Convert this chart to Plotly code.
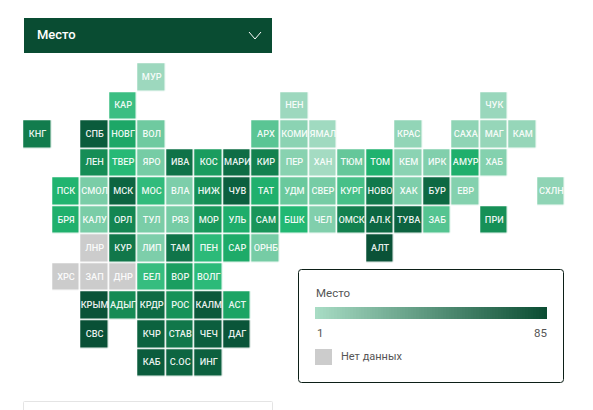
import plotly.graph_objects as go

W, H = 593, 410

# Tile grid: region codes by grid row, "" = no tile
region_rows = [
    ["","","","","МУР","","","","","","","","","","","","","","",],
    ["","","","КАР","","","","","","НЕН","","","","","","","ЧУК","","",],
    ["КНГ","","СПБ","НОВГ","ВОЛ","","","","АРХ","КОМИ","ЯМАЛ","","","КРАС","","САХА","МАГ","КАМ","",],
    ["","","ЛЕН","ТВЕР","ЯРО","ИВА","КОС","МАРИ","КИР","ПЕР","ХАН","ТЮМ","ТОМ","КЕМ","ИРК","АМУР","ХАБ","","",],
    ["","ПСК","СМОЛ","МСК","МОС","ВЛА","НИЖ","ЧУВ","ТАТ","УДМ","СВЕР","КУРГ","НОВО","ХАК","БУР","ЕВР","","","СХЛН",],
    ["","БРЯ","КАЛУ","ОРЛ","ТУЛ","РЯЗ","МОР","УЛЬ","САМ","БШК","ЧЕЛ","ОМСК","АЛ.К","ТУВА","ЗАБ","","ПРИ","","",],
    ["","","ЛНР","КУР","ЛИП","ТАМ","ПЕН","САР","ОРНБ","","","","АЛТ","","","","","","",],
    ["","ХРС","ЗАП","ДНР","БЕЛ","ВОР","ВОЛГ","","","","","","","","","","","","",],
    ["","","КРЫМ","АДЫГ","КРДР","РОС","КАЛМ","АСТ","","","","","","","","","","","",],
    ["","","СВС","","КЧР","СТАВ","ЧЕЧ","ДАГ","","","","","","","","","","","",],
    ["","","","","КАБ","С.ОС","ИНГ","","","","","","","","","","","","",],
]
_ = None
# Rank of each tile (estimated from tile colour); None = no tile or no data
rank_rows = [
    [_,_,_,_,5,_,_,_,_,_,_,_,_,_,_,_,_,_,_],
    [_,_,_,28,_,_,_,_,_,5,_,_,_,_,_,_,6,_,_],
    [62,_,78,42,18,_,_,_,22,10,4,_,_,8,_,9,7,7,_],
    [_,_,55,32,16,66,48,68,60,11,3,20,36,10,13,38,12,_,_],
    [_,35,15,72,30,14,54,75,37,19,16,26,63,14,70,12,_,_,9],
    [_,37,15,58,15,16,50,39,52,33,13,60,71,73,23,_,54,_,_],
    [_,_,_,64,14,65,31,40,16,_,_,_,83,_,_,_,_,_,_],
    [_,_,_,_,29,47,31,_,_,_,_,_,_,_,_,_,_,_,_],
    [_,_,82,56,69,53,79,44,_,_,_,_,_,_,_,_,_,_,_],
    [_,_,84,_,74,64,76,81,_,_,_,_,_,_,_,_,_,_,_],
    [_,_,_,_,77,72,75,_,_,_,_,_,_,_,_,_,_,_,_],
]
no_data_regions = ["ЛНР", "ХРС", "ЗАП", "ДНР"]

title_text = "Место"
legend_title = "Место"
legend_min, legend_max = 1, 85
legend_values = list(range(legend_min, legend_max + 1))
no_data_text = "Нет данных"

DARK = "#094c32"
tile_scale = [[0, "#abddc7"], [0.2, "#70caa1"], [0.38, "#22b873"], [0.6, "#18965a"], [0.8, "#0e6c45"], [1, "#094e35"]]
legend_scale = [[0, "#a8dcc4"], [1, "#0b4d33"]]

# pixel geometry of the grid
PITCH = 28.55
X0, Y0 = 37.5, 77.5
px = lambda p: p / W
py = lambda p: 1 - p / H

ncols = len(region_rows[0])
nrows = len(region_rows)
col_idx = list(range(ncols))
row_idx = list(range(nrows))

no_data_z = [[1 if c in no_data_regions else None for c in r] for r in region_rows]

fig = go.Figure()
GAP = 1.6
fig.add_trace(go.Heatmap(x=col_idx, y=row_idx, z=rank_rows, colorscale=tile_scale, zmin=legend_min, zmax=legend_max,
                         xgap=GAP, ygap=GAP, showscale=False, hoverongaps=False))
fig.add_trace(go.Heatmap(x=col_idx, y=row_idx, z=no_data_z, colorscale=[[0, "#cccccc"], [1, "#cccccc"]],
                         xgap=GAP, ygap=GAP, showscale=False, hoverongaps=False))

tx, ty, tt = [], [], []
for j, r in enumerate(region_rows):
    for i, c in enumerate(r):
        if c:
            tx.append(i); ty.append(j); tt.append(c)
fig.add_trace(go.Scatter(x=tx, y=ty, text=tt, mode="text", hoverinfo="skip", cliponaxis=False,
                         textfont=dict(family="Roboto", size=9.2, color="rgba(255,255,255,0.92)", weight=500)))

# Legend gradient
fig.add_trace(go.Heatmap(x=legend_values, y=[0], z=[legend_values], colorscale=legend_scale,
                         zmin=legend_min, zmax=legend_max, showscale=False, xaxis="x2", yaxis="y2"))


def rrect(x0, y0, x1, y1, r):
    a, b, c, d = px(x0), py(y0), px(x1), py(y1)
    rx, ry = px(r), r / H
    return (f"M{a+rx},{b} L{c-rx},{b} Q{c},{b} {c},{b-ry} L{c},{d+ry} Q{c},{d} {c-rx},{d} "
            f"L{a+rx},{d} Q{a},{d} {a},{d+ry} L{a},{b-ry} Q{a},{b} {a+rx},{b} Z")


shapes = [
    dict(type="rect", xref="paper", yref="paper", x0=px(24), x1=px(272), y0=py(18), y1=py(53), fillcolor=DARK, line_width=0, layer="above"),
    dict(type="path", xref="paper", yref="paper", layer="above", line=dict(color="#ffffff", width=1),
         path=f"M{px(249)},{py(32)} L{px(255)},{py(39)} L{px(261)},{py(32)}"),
    dict(type="path", xref="paper", yref="paper", path=rrect(298.5, 269.5, 563.5, 382.5, 3),
         line=dict(color="#0c1f17", width=1), fillcolor="#ffffff", layer="below"),
    dict(type="rect", xref="paper", yref="paper", x0=px(315), x1=px(332), y0=py(349), y1=py(365), fillcolor="#cccccc", line_width=0, layer="below"),
    dict(type="path", xref="paper", yref="paper", path=rrect(23.5, 401.5, 272.5, 420, 1),
         line=dict(color="#e4e4e4", width=1), fillcolor="#ffffff", layer="below"),
]


def note(text, x, y, size, color, anchor="left", weight=400):
    return dict(text=text, xref="paper", yref="paper", x=px(x), y=py(y), showarrow=False, xanchor=anchor, yanchor="middle",
                font=dict(family="Roboto", size=size, color=color, weight=weight))


annotations = [
    note(title_text, 35, 35, 13, "#ffffff", weight=500),
    note(legend_title, 313.5, 293, 11.5, "#555555"),
    note(str(legend_min), 314.5, 333, 11.5, "#555555"),
    note(str(legend_max), 549, 333, 11.5, "#555555", anchor="right"),
    note(no_data_text, 338.5, 356, 11, "#555555"),
]

fig.update_layout(
    width=W, height=H, margin=dict(l=0, r=0, t=0, b=0), autosize=False,
    paper_bgcolor="#ffffff", plot_bgcolor="rgba(0,0,0,0)", showlegend=False,
    xaxis=dict(range=[(0 - X0) / PITCH, (W - X0) / PITCH], visible=False, domain=[0, 1], fixedrange=True),
    yaxis=dict(range=[(H - Y0) / PITCH, (0 - Y0) / PITCH], visible=False, domain=[0, 1], fixedrange=True),
    xaxis2=dict(range=[legend_min - 0.5, legend_max + 0.5], visible=False, domain=[px(315), px(547)], anchor="y2", fixedrange=True),
    yaxis2=dict(range=[-0.5, 0.5], visible=False, domain=[py(319), py(307)], anchor="x2", fixedrange=True),
    shapes=shapes, annotations=annotations,
)

fig.write_html("out.html", config=dict(displayModeBar=False),
               post_script="document.body.style.margin='0';document.body.style.overflow='hidden';")
